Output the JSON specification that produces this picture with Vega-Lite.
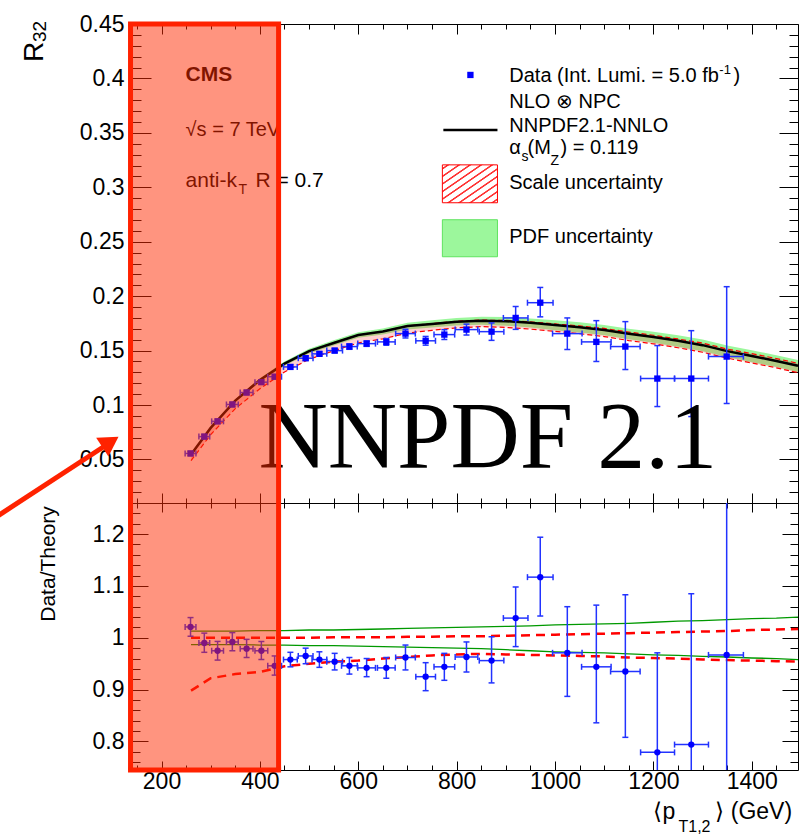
{
  "$schema": "https://vega.github.io/schema/vega-lite/v6.json",
  "autosize": "none",
  "padding": {"left": 132, "top": 24, "right": 9, "bottom": 816},
  "background": "white",
  "config": {
    "view": {"stroke": null},
    "axis": {"grid": false, "domainColor": "black", "tickColor": "black", "domainWidth": 1, "tickWidth": 1, "labelColor": "black", "labelFont": "Liberation Sans", "labelFontSize": 23},
    "text": {"font": "Liberation Sans", "color": "black"}
  },
  "datasets": {
    "theory": [
      {"x":260,"c":0.0545,"pl":0.0538,"ph":0.0552,"sl":0.0489,"sh":0.0545,"rpl":0.987,"rph":1.013,"rsl":0.898,"rsh":1.0},
      {"x":300,"c":0.079,"pl":0.078,"ph":0.08,"sl":0.0728,"sh":0.079,"rpl":0.987,"rph":1.013,"rsl":0.922,"rsh":1.0},
      {"x":350,"c":0.104,"pl":0.1026,"ph":0.1054,"sl":0.0967,"sh":0.104,"rpl":0.987,"rph":1.013,"rsl":0.93,"rsh":1.0},
      {"x":400,"c":0.123,"pl":0.1213,"ph":0.1247,"sl":0.1149,"sh":0.123,"rpl":0.986,"rph":1.014,"rsl":0.934,"rsh":1.0},
      {"x":450,"c":0.138,"pl":0.1361,"ph":0.1399,"sl":0.1304,"sh":0.138,"rpl":0.986,"rph":1.014,"rsl":0.945,"rsh":1.0},
      {"x":500,"c":0.1495,"pl":0.1473,"ph":0.1517,"sl":0.142,"sh":0.1495,"rpl":0.985,"rph":1.015,"rsl":0.95,"rsh":1.0},
      {"x":550,"c":0.157,"pl":0.1546,"ph":0.1594,"sl":0.1498,"sh":0.1572,"rpl":0.985,"rph":1.015,"rsl":0.954,"rsh":1.001},
      {"x":600,"c":0.1643,"pl":0.1617,"ph":0.1669,"sl":0.1571,"sh":0.1645,"rpl":0.984,"rph":1.016,"rsl":0.956,"rsh":1.001},
      {"x":650,"c":0.1675,"pl":0.1647,"ph":0.1703,"sl":0.1608,"sh":0.1677,"rpl":0.983,"rph":1.017,"rsl":0.96,"rsh":1.001},
      {"x":700,"c":0.1725,"pl":0.1694,"ph":0.1756,"sl":0.1661,"sh":0.1728,"rpl":0.982,"rph":1.018,"rsl":0.963,"rsh":1.002},
      {"x":750,"c":0.1745,"pl":0.1712,"ph":0.1778,"sl":0.1686,"sh":0.1748,"rpl":0.981,"rph":1.019,"rsl":0.966,"rsh":1.002},
      {"x":800,"c":0.1765,"pl":0.173,"ph":0.18,"sl":0.1709,"sh":0.177,"rpl":0.98,"rph":1.02,"rsl":0.968,"rsh":1.003},
      {"x":850,"c":0.1775,"pl":0.1738,"ph":0.1812,"sl":0.172,"sh":0.178,"rpl":0.979,"rph":1.021,"rsl":0.969,"rsh":1.003},
      {"x":900,"c":0.177,"pl":0.1729,"ph":0.1809,"sl":0.1713,"sh":0.1777,"rpl":0.977,"rph":1.022,"rsl":0.968,"rsh":1.004},
      {"x":950,"c":0.1755,"pl":0.1711,"ph":0.1795,"sl":0.1697,"sh":0.1764,"rpl":0.975,"rph":1.023,"rsl":0.967,"rsh":1.005},
      {"x":1000,"c":0.1735,"pl":0.1688,"ph":0.1778,"sl":0.1676,"sh":0.1745,"rpl":0.973,"rph":1.025,"rsl":0.966,"rsh":1.006},
      {"x":1050,"c":0.1715,"pl":0.1667,"ph":0.176,"sl":0.1655,"sh":0.1727,"rpl":0.972,"rph":1.026,"rsl":0.965,"rsh":1.007},
      {"x":1100,"c":0.169,"pl":0.1641,"ph":0.1736,"sl":0.1629,"sh":0.1704,"rpl":0.971,"rph":1.027,"rsl":0.964,"rsh":1.008},
      {"x":1150,"c":0.1655,"pl":0.1604,"ph":0.1701,"sl":0.1592,"sh":0.167,"rpl":0.969,"rph":1.028,"rsl":0.962,"rsh":1.009},
      {"x":1200,"c":0.1625,"pl":0.1571,"ph":0.1674,"sl":0.1562,"sh":0.1641,"rpl":0.967,"rph":1.03,"rsl":0.961,"rsh":1.01},
      {"x":1250,"c":0.159,"pl":0.1536,"ph":0.1641,"sl":0.1526,"sh":0.1607,"rpl":0.966,"rph":1.032,"rsl":0.96,"rsh":1.011},
      {"x":1300,"c":0.155,"pl":0.1494,"ph":0.1601,"sl":0.1485,"sh":0.1569,"rpl":0.964,"rph":1.033,"rsl":0.958,"rsh":1.012},
      {"x":1350,"c":0.1495,"pl":0.144,"ph":0.1547,"sl":0.1431,"sh":0.1514,"rpl":0.963,"rph":1.035,"rsl":0.957,"rsh":1.013},
      {"x":1400,"c":0.145,"pl":0.1393,"ph":0.1504,"sl":0.1386,"sh":0.1472,"rpl":0.961,"rph":1.037,"rsl":0.956,"rsh":1.015},
      {"x":1450,"c":0.1405,"pl":0.1349,"ph":0.1458,"sl":0.1342,"sh":0.1427,"rpl":0.96,"rph":1.038,"rsl":0.955,"rsh":1.016},
      {"x":1494,"c":0.136,"pl":0.1303,"ph":0.1414,"sl":0.1297,"sh":0.1383,"rpl":0.958,"rph":1.04,"rsl":0.954,"rsh":1.017}
    ],
    "points": [
      {"x":259,"xlo":248,"xhi":270,"y":0.0555,"ylo":0.0535,"yhi":0.0575,"r":1.021,"rlo":1.003,"rhi":1.039},
      {"x":287,"xlo":276,"xhi":298,"y":0.071,"ylo":0.069,"yhi":0.073,"r":0.99,"rlo":0.972,"rhi":1.009},
      {"x":314,"xlo":302,"xhi":326,"y":0.085,"ylo":0.083,"yhi":0.087,"r":0.975,"rlo":0.957,"rhi":0.993},
      {"x":344,"xlo":332,"xhi":356,"y":0.1005,"ylo":0.0985,"yhi":0.1025,"r":0.992,"rlo":0.975,"rhi":1.01},
      {"x":373,"xlo":360,"xhi":386,"y":0.1115,"ylo":0.1095,"yhi":0.1135,"r":0.979,"rlo":0.962,"rhi":0.997},
      {"x":403,"xlo":390,"xhi":416,"y":0.121,"ylo":0.119,"yhi":0.123,"r":0.975,"rlo":0.958,"rhi":0.993},
      {"x":430,"xlo":416,"xhi":444,"y":0.126,"ylo":0.124,"yhi":0.128,"r":0.946,"rlo":0.928,"rhi":0.965},
      {"x":462,"xlo":448,"xhi":476,"y":0.135,"ylo":0.133,"yhi":0.137,"r":0.958,"rlo":0.944,"rhi":0.972},
      {"x":493,"xlo":478,"xhi":508,"y":0.143,"ylo":0.141,"yhi":0.145,"r":0.965,"rlo":0.95,"rhi":0.98},
      {"x":521,"xlo":506,"xhi":536,"y":0.147,"ylo":0.145,"yhi":0.149,"r":0.958,"rlo":0.943,"rhi":0.973},
      {"x":552,"xlo":536,"xhi":568,"y":0.15,"ylo":0.148,"yhi":0.152,"r":0.954,"rlo":0.938,"rhi":0.97},
      {"x":582,"xlo":566,"xhi":598,"y":0.1537,"ylo":0.1512,"yhi":0.1562,"r":0.946,"rlo":0.93,"rhi":0.962},
      {"x":617,"xlo":599,"xhi":635,"y":0.1564,"ylo":0.1539,"yhi":0.1589,"r":0.942,"rlo":0.925,"rhi":0.96},
      {"x":657,"xlo":639,"xhi":675,"y":0.158,"ylo":0.155,"yhi":0.161,"r":0.942,"rlo":0.922,"rhi":0.962},
      {"x":696,"xlo":676,"xhi":716,"y":0.1656,"ylo":0.1616,"yhi":0.1696,"r":0.962,"rlo":0.938,"rhi":0.986},
      {"x":737,"xlo":717,"xhi":757,"y":0.159,"ylo":0.155,"yhi":0.163,"r":0.925,"rlo":0.898,"rhi":0.952},
      {"x":775,"xlo":754,"xhi":796,"y":0.1647,"ylo":0.1602,"yhi":0.1692,"r":0.944,"rlo":0.918,"rhi":0.97},
      {"x":820,"xlo":797,"xhi":843,"y":0.1693,"ylo":0.1643,"yhi":0.1743,"r":0.963,"rlo":0.934,"rhi":0.992},
      {"x":871,"xlo":846,"xhi":896,"y":0.1674,"ylo":0.1594,"yhi":0.1754,"r":0.956,"rlo":0.913,"rhi":1.002},
      {"x":920,"xlo":895,"xhi":945,"y":0.18,"ylo":0.1695,"yhi":0.1905,"r":1.038,"rlo":0.983,"rhi":1.098},
      {"x":970,"xlo":944,"xhi":996,"y":0.194,"ylo":0.181,"yhi":0.208,"r":1.117,"rlo":1.042,"rhi":1.194},
      {"x":1025,"xlo":995,"xhi":1055,"y":0.1656,"ylo":0.151,"yhi":0.18,"r":0.971,"rlo":0.887,"rhi":1.06},
      {"x":1084,"xlo":1054,"xhi":1114,"y":0.158,"ylo":0.14,"yhi":0.1775,"r":0.944,"rlo":0.836,"rhi":1.063},
      {"x":1143,"xlo":1113,"xhi":1173,"y":0.1537,"ylo":0.1326,"yhi":0.1766,"r":0.935,"rlo":0.808,"rhi":1.083},
      {"x":1208,"xlo":1174,"xhi":1243,"y":0.1243,"ylo":0.0986,"yhi":0.1546,"r":0.779,"rlo":0.62,"rhi":0.971},
      {"x":1277,"xlo":1243,"xhi":1312,"y":0.1243,"ylo":0.0894,"yhi":0.1683,"r":0.794,"rlo":0.57,"rhi":1.085},
      {"x":1349,"xlo":1312,"xhi":1383,"y":0.1445,"ylo":0.1014,"yhi":0.2087,"r":0.967,"rlo":0.68,"rhi":1.4}
    ],
    "highlight": [{"lo": 137, "hi": 438}],
    "arrow": [{"x": -137.5, "y": -0.0032}, {"x": 86.2, "y": 0.0628}],
    "one": [{}]
  },
  "vconcat": [
    {
      "width": 666,
      "height": 479,
      "resolve": {"axis": {"x": "independent", "y": "independent"}},
      "layer": [
        {
          "data": {"name": "theory"},
          "mark": {"type": "area", "color": "#9cf79c", "opacity": 1},
          "encoding": {
            "x": {"field": "x", "type": "quantitative", "scale": {"domain": [140, 1494], "nice": false, "zero": false},
                  "axis": {"orient": "bottom", "values": [200,400,600,800,1000,1200,1400], "tickSize": -10, "labels": false, "domain": true, "title": null}},
            "y": {"field": "pl", "type": "quantitative", "scale": {"domain": [0.01, 0.45], "nice": false, "zero": false},
                  "axis": {"orient": "left", "values": [0.05,0.1,0.15,0.2,0.25,0.3,0.35,0.4,0.45], "tickSize": -19, "labelPadding": 27, "format": "~g", "labelOverlap": false, "labelFlush": false, "domain": true, "title": null}},
            "y2": {"field": "ph"}
          }
        },
        {
          "data": {"name": "theory"},
          "mark": {"type": "area", "color": "#ff3030", "opacity": 0.22},
          "encoding": {
            "x": {"field": "x", "type": "quantitative",
                  "axis": {"orient": "bottom", "values": [150,250,300,350,450,500,550,650,700,750,850,900,950,1050,1100,1150,1250,1300,1350,1450], "tickSize": -5, "labels": false, "domain": false, "title": null}},
            "y": {"field": "sl", "type": "quantitative",
                  "axis": {"orient": "left", "values": [0.01,0.02,0.03,0.04,0.06,0.07,0.08,0.09,0.11,0.12,0.13,0.14,0.16,0.17,0.18,0.19,0.21,0.22,0.23,0.24,0.26,0.27,0.28,0.29,0.31,0.32,0.33,0.34,0.36,0.37,0.38,0.39,0.41,0.42,0.43,0.44], "tickSize": -9, "labels": false, "domain": false, "title": null}},
            "y2": {"field": "sh"}
          }
        },
        {
          "data": {"name": "theory"},
          "mark": {"type": "line", "color": "#ff0000", "strokeWidth": 1.2, "strokeDash": [5, 3]},
          "encoding": {
            "x": {"field": "x", "type": "quantitative",
                  "axis": {"orient": "top", "values": [200,400,600,800,1000,1200,1400], "tickSize": -10, "labels": false, "domain": true, "title": null}},
            "y": {"field": "sl", "type": "quantitative",
                  "axis": {"orient": "right", "values": [0.05,0.1,0.15,0.2,0.25,0.3,0.35,0.4,0.45], "tickSize": -19, "labels": false, "domain": true, "title": null}}
          }
        },
        {
          "data": {"name": "theory"},
          "mark": {"type": "line", "color": "#ff0000", "strokeWidth": 1.2, "strokeDash": [5, 3]},
          "encoding": {
            "x": {"field": "x", "type": "quantitative",
                  "axis": {"orient": "top", "values": [150,250,300,350,450,500,550,650,700,750,850,900,950,1050,1100,1150,1250,1300,1350,1450], "tickSize": -5, "labels": false, "domain": false, "title": null}},
            "y": {"field": "sh", "type": "quantitative",
                  "axis": {"orient": "right", "values": [0.01,0.02,0.03,0.04,0.06,0.07,0.08,0.09,0.11,0.12,0.13,0.14,0.16,0.17,0.18,0.19,0.21,0.22,0.23,0.24,0.26,0.27,0.28,0.29,0.31,0.32,0.33,0.34,0.36,0.37,0.38,0.39,0.41,0.42,0.43,0.44], "tickSize": -9, "labels": false, "domain": false, "title": null}}
          }
        },
        {
          "data": {"name": "theory"},
          "mark": {"type": "line", "color": "#000000", "strokeWidth": 2.5},
          "encoding": {
            "x": {"field": "x", "type": "quantitative", "axis": null},
            "y": {"field": "c", "type": "quantitative", "axis": null}
          }
        },
        {
          "data": {"name": "points"},
          "mark": {"type": "rule", "color": "#2233ff", "strokeWidth": 1.5},
          "encoding": {
            "x": {"field": "xlo", "type": "quantitative", "axis": null},
            "x2": {"field": "xhi"},
            "y": {"field": "y", "type": "quantitative", "axis": null}
          }
        },
        {
          "data": {"name": "points"},
          "mark": {"type": "rule", "color": "#2233ff", "strokeWidth": 1.5},
          "encoding": {
            "x": {"field": "x", "type": "quantitative", "axis": null},
            "y": {"field": "ylo", "type": "quantitative", "axis": null},
            "y2": {"field": "yhi"}
          }
        },
        {
          "data": {"name": "points"},
          "transform": [{"fold": ["ylo", "yhi"], "as": ["k", "v"]}],
          "mark": {"type": "tick", "orient": "horizontal", "size": 6, "thickness": 1.5, "color": "#2233ff", "opacity": 1},
          "encoding": {
            "x": {"field": "x", "type": "quantitative", "axis": null},
            "y": {"field": "v", "type": "quantitative", "axis": null}
          }
        },
        {
          "data": {"name": "points"},
          "transform": [{"fold": ["xlo", "xhi"], "as": ["k", "v"]}],
          "mark": {"type": "tick", "orient": "vertical", "size": 6, "thickness": 1.5, "color": "#2233ff", "opacity": 1},
          "encoding": {
            "x": {"field": "v", "type": "quantitative", "axis": null},
            "y": {"field": "y", "type": "quantitative", "axis": null}
          }
        },
        {
          "data": {"name": "points"},
          "mark": {"type": "point", "shape": "square", "filled": true, "size": 40, "color": "#0000ff", "opacity": 1},
          "encoding": {
            "x": {"field": "x", "type": "quantitative", "axis": null},
            "y": {"field": "y", "type": "quantitative", "axis": null}
          }
        },
        {
          "data": {"name": "one"},
          "mark": {"type": "point", "shape": "square", "filled": true, "size": 40, "color": "#0000ff", "opacity": 1},
          "encoding": {"x": {"datum": 828, "type": "quantitative", "axis": null}, "y": {"datum": 0.4032, "type": "quantitative", "axis": null}}
        },
        {
          "data": {"name": "one"},
          "mark": {"type": "rule", "color": "#000000", "strokeWidth": 2.5},
          "encoding": {"x": {"datum": 773, "type": "quantitative", "axis": null}, "x2": {"datum": 883}, "y": {"datum": 0.3527, "type": "quantitative", "axis": null}}
        },
        {
          "data": {"name": "one"},
          "mark": {"type": "rect", "stroke": "#ff0000", "strokeWidth": 1,
                   "fill": {"gradient": "linear", "x1": 0, "y1": 0, "x2": 1, "y2": 1, "stops": [
                     {"offset": 0, "color": "#ffffff"},
                     {"offset": 0.035, "color": "#ffffff"}, {"offset": 0.045, "color": "#ff3333"}, {"offset": 0.06, "color": "#ff3333"}, {"offset": 0.07, "color": "#ffffff"},
                     {"offset": 0.135, "color": "#ffffff"}, {"offset": 0.145, "color": "#ff3333"}, {"offset": 0.16, "color": "#ff3333"}, {"offset": 0.17, "color": "#ffffff"},
                     {"offset": 0.235, "color": "#ffffff"}, {"offset": 0.245, "color": "#ff3333"}, {"offset": 0.26, "color": "#ff3333"}, {"offset": 0.27, "color": "#ffffff"},
                     {"offset": 0.335, "color": "#ffffff"}, {"offset": 0.345, "color": "#ff3333"}, {"offset": 0.36, "color": "#ff3333"}, {"offset": 0.37, "color": "#ffffff"},
                     {"offset": 0.435, "color": "#ffffff"}, {"offset": 0.445, "color": "#ff3333"}, {"offset": 0.46, "color": "#ff3333"}, {"offset": 0.47, "color": "#ffffff"},
                     {"offset": 0.535, "color": "#ffffff"}, {"offset": 0.545, "color": "#ff3333"}, {"offset": 0.56, "color": "#ff3333"}, {"offset": 0.57, "color": "#ffffff"},
                     {"offset": 0.635, "color": "#ffffff"}, {"offset": 0.645, "color": "#ff3333"}, {"offset": 0.66, "color": "#ff3333"}, {"offset": 0.67, "color": "#ffffff"},
                     {"offset": 0.735, "color": "#ffffff"}, {"offset": 0.745, "color": "#ff3333"}, {"offset": 0.76, "color": "#ff3333"}, {"offset": 0.77, "color": "#ffffff"},
                     {"offset": 0.835, "color": "#ffffff"}, {"offset": 0.845, "color": "#ff3333"}, {"offset": 0.86, "color": "#ff3333"}, {"offset": 0.87, "color": "#ffffff"},
                     {"offset": 0.935, "color": "#ffffff"}, {"offset": 0.945, "color": "#ff3333"}, {"offset": 0.96, "color": "#ff3333"}, {"offset": 0.97, "color": "#ffffff"},
                     {"offset": 1, "color": "#ffffff"}]}},
          "encoding": {"x": {"datum": 771, "type": "quantitative", "axis": null}, "x2": {"datum": 883}, "y": {"datum": 0.2858, "type": "quantitative", "axis": null}, "y2": {"datum": 0.3206}}
        },
        {
          "data": {"name": "one"},
          "mark": {"type": "rect", "fill": "#9cf79c", "stroke": "#5fe35f", "strokeWidth": 1},
          "encoding": {"x": {"datum": 771, "type": "quantitative", "axis": null}, "x2": {"datum": 883}, "y": {"datum": 0.2362, "type": "quantitative", "axis": null}, "y2": {"datum": 0.2702}}
        },
        {"data": {"name": "one"}, "mark": {"type": "text", "text": "Data (Int. Lumi. = 5.0 fb", "fontSize": 20, "align": "left", "baseline": "alphabetic"},
         "encoding": {"x": {"datum": 907, "type": "quantitative", "axis": null}, "y": {"datum": 0.3968, "type": "quantitative", "axis": null}}},
        {"data": {"name": "one"}, "mark": {"type": "text", "text": "-1", "fontSize": 13, "align": "left", "baseline": "alphabetic"},
         "encoding": {"x": {"datum": 1334, "type": "quantitative", "axis": null}, "y": {"datum": 0.4042, "type": "quantitative", "axis": null}}},
        {"data": {"name": "one"}, "mark": {"type": "text", "text": ")", "fontSize": 20, "align": "left", "baseline": "alphabetic"},
         "encoding": {"x": {"datum": 1363, "type": "quantitative", "axis": null}, "y": {"datum": 0.3968, "type": "quantitative", "axis": null}}},
        {"data": {"name": "one"}, "mark": {"type": "text", "text": "NLO ⊗ NPC", "fontSize": 20, "align": "left", "baseline": "alphabetic"},
         "encoding": {"x": {"datum": 907, "type": "quantitative", "axis": null}, "y": {"datum": 0.373, "type": "quantitative", "axis": null}}},
        {"data": {"name": "one"}, "mark": {"type": "text", "text": "NNPDF2.1-NNLO", "fontSize": 20, "align": "left", "baseline": "alphabetic"},
         "encoding": {"x": {"datum": 907, "type": "quantitative", "axis": null}, "y": {"datum": 0.351, "type": "quantitative", "axis": null}}},
        {"data": {"name": "one"}, "mark": {"type": "text", "text": "α", "fontSize": 20, "align": "left", "baseline": "alphabetic"},
         "encoding": {"x": {"datum": 907, "type": "quantitative", "axis": null}, "y": {"datum": 0.3307, "type": "quantitative", "axis": null}}},
        {"data": {"name": "one"}, "mark": {"type": "text", "text": "s", "fontSize": 14, "align": "left", "baseline": "alphabetic"},
         "encoding": {"x": {"datum": 932, "type": "quantitative", "axis": null}, "y": {"datum": 0.3243, "type": "quantitative", "axis": null}}},
        {"data": {"name": "one"}, "mark": {"type": "text", "text": "(M", "fontSize": 20, "align": "left", "baseline": "alphabetic"},
         "encoding": {"x": {"datum": 944, "type": "quantitative", "axis": null}, "y": {"datum": 0.3307, "type": "quantitative", "axis": null}}},
        {"data": {"name": "one"}, "mark": {"type": "text", "text": "Z", "fontSize": 14, "align": "left", "baseline": "alphabetic"},
         "encoding": {"x": {"datum": 991, "type": "quantitative", "axis": null}, "y": {"datum": 0.3206, "type": "quantitative", "axis": null}}},
        {"data": {"name": "one"}, "mark": {"type": "text", "text": ") = 0.119", "fontSize": 20, "align": "left", "baseline": "alphabetic"},
         "encoding": {"x": {"datum": 1011, "type": "quantitative", "axis": null}, "y": {"datum": 0.3307, "type": "quantitative", "axis": null}}},
        {"data": {"name": "one"}, "mark": {"type": "text", "text": "Scale uncertainty", "fontSize": 20, "align": "left", "baseline": "alphabetic"},
         "encoding": {"x": {"datum": 907, "type": "quantitative", "axis": null}, "y": {"datum": 0.2986, "type": "quantitative", "axis": null}}},
        {"data": {"name": "one"}, "mark": {"type": "text", "text": "PDF uncertainty", "fontSize": 20, "align": "left", "baseline": "alphabetic"},
         "encoding": {"x": {"datum": 907, "type": "quantitative", "axis": null}, "y": {"datum": 0.249, "type": "quantitative", "axis": null}}},
        {"data": {"name": "one"}, "mark": {"type": "text", "text": "NNPDF 2.1", "font": "Liberation Serif", "fontSize": 96, "align": "left", "baseline": "alphabetic"},
         "encoding": {"x": {"datum": 397, "type": "quantitative", "axis": null}, "y": {"datum": 0.0417, "type": "quantitative", "axis": null}}},
        {"data": {"name": "one"}, "mark": {"type": "text", "text": "CMS", "fontSize": 21, "fontWeight": "bold", "align": "left", "baseline": "alphabetic"},
         "encoding": {"x": {"datum": 249, "type": "quantitative", "axis": null}, "y": {"datum": 0.3977, "type": "quantitative", "axis": null}}},
        {"data": {"name": "one"}, "mark": {"type": "text", "text": "√s = 7 TeV", "fontSize": 20, "align": "left", "baseline": "alphabetic"},
         "encoding": {"x": {"datum": 249, "type": "quantitative", "axis": null}, "y": {"datum": 0.3472, "type": "quantitative", "axis": null}}},
        {"data": {"name": "one"}, "mark": {"type": "text", "text": "anti-k", "fontSize": 21, "align": "left", "baseline": "alphabetic"},
         "encoding": {"x": {"datum": 249, "type": "quantitative", "axis": null}, "y": {"datum": 0.3005, "type": "quantitative", "axis": null}}},
        {"data": {"name": "one"}, "mark": {"type": "text", "text": "T", "fontSize": 14, "align": "left", "baseline": "alphabetic"},
         "encoding": {"x": {"datum": 356.5, "type": "quantitative", "axis": null}, "y": {"datum": 0.294, "type": "quantitative", "axis": null}}},
        {"data": {"name": "one"}, "mark": {"type": "text", "text": "R = 0.7", "fontSize": 21, "align": "left", "baseline": "alphabetic"},
         "encoding": {"x": {"datum": 391, "type": "quantitative", "axis": null}, "y": {"datum": 0.3005, "type": "quantitative", "axis": null}}},
        {"data": {"name": "one"}, "mark": {"type": "text", "text": "R", "fontSize": 28, "angle": 270, "align": "left", "baseline": "alphabetic"},
         "encoding": {"x": {"datum": -40, "type": "quantitative", "axis": null}, "y": {"datum": 0.4151, "type": "quantitative", "axis": null}}},
        {"data": {"name": "one"}, "mark": {"type": "text", "text": "32", "fontSize": 19, "angle": 270, "align": "left", "baseline": "alphabetic"},
         "encoding": {"x": {"datum": -35, "type": "quantitative", "axis": null}, "y": {"datum": 0.4335, "type": "quantitative", "axis": null}}},
        {
          "data": {"name": "highlight"},
          "mark": {"type": "rect", "color": "#ff2a00", "opacity": 0.5},
          "encoding": {"x": {"field": "lo", "type": "quantitative", "axis": null}, "x2": {"field": "hi"}, "y": {"datum": 0.45, "type": "quantitative", "axis": null}, "y2": {"datum": 0.01}}
        },
        {
          "data": {"name": "highlight"},
          "mark": {"type": "rule", "color": "#ff2200", "strokeWidth": 5},
          "encoding": {"x": {"field": "lo", "type": "quantitative", "axis": null}}
        },
        {
          "data": {"name": "highlight"},
          "mark": {"type": "rule", "color": "#ff2200", "strokeWidth": 5},
          "encoding": {"x": {"field": "hi", "type": "quantitative", "axis": null}}
        },
        {
          "data": {"name": "highlight"},
          "mark": {"type": "rule", "color": "#ff2200", "strokeWidth": 5, "strokeCap": "square"},
          "encoding": {"x": {"field": "lo", "type": "quantitative", "axis": null}, "x2": {"field": "hi"}, "y": {"datum": 0.45, "type": "quantitative", "axis": null}}
        },
        {
          "data": {"name": "arrow"},
          "mark": {"type": "line", "color": "#ff2200", "strokeWidth": 5},
          "encoding": {"x": {"field": "x", "type": "quantitative", "axis": null}, "y": {"field": "y", "type": "quantitative", "axis": null}}
        },
        {
          "data": {"name": "one"},
          "mark": {"type": "point", "shape": "triangle-up", "filled": true, "size": 500, "angle": 56.8, "color": "#ff2200", "opacity": 1},
          "encoding": {"x": {"datum": 96.1, "type": "quantitative", "axis": null}, "y": {"datum": 0.0661, "type": "quantitative", "axis": null}}
        }
      ]
    },
    {
      "width": 666,
      "height": 267,
      "resolve": {"axis": {"x": "independent", "y": "independent"}},
      "layer": [
        {
          "data": {"name": "theory"},
          "mark": {"type": "line", "color": "#009900", "strokeWidth": 1.3},
          "encoding": {
            "x": {"field": "x", "type": "quantitative", "scale": {"domain": [140, 1494], "nice": false, "zero": false},
                  "axis": {"orient": "bottom", "values": [200,400,600,800,1000,1200,1400], "tickSize": -9, "labelPadding": 9, "labelBaseline": "top", "format": "d", "labelFlush": false, "labelOverlap": false, "domain": true, "title": null}},
            "y": {"field": "rph", "type": "quantitative", "scale": {"domain": [0.745, 1.26], "nice": false, "zero": false},
                  "axis": {"orient": "left", "values": [0.8,0.9,1,1.1,1.2], "tickSize": -16, "labelPadding": 24, "format": "~g", "labelOverlap": false, "labelFlush": false, "domain": true, "title": null}}
          }
        },
        {
          "data": {"name": "theory"},
          "mark": {"type": "line", "color": "#009900", "strokeWidth": 1.3},
          "encoding": {
            "x": {"field": "x", "type": "quantitative",
                  "axis": {"orient": "bottom", "values": [150,250,300,350,450,500,550,650,700,750,850,900,950,1050,1100,1150,1250,1300,1350,1450], "tickSize": -5, "labels": false, "domain": false, "title": null}},
            "y": {"field": "rpl", "type": "quantitative",
                  "axis": {"orient": "left", "values": [0.76,0.78,0.82,0.84,0.86,0.88,0.92,0.94,0.96,0.98,1.02,1.04,1.06,1.08,1.12,1.14,1.16,1.18,1.22,1.24], "tickSize": -8, "labels": false, "domain": false, "title": null}}
          }
        },
        {
          "data": {"name": "theory"},
          "mark": {"type": "line", "color": "#ff0000", "strokeWidth": 2.5, "strokeDash": [9, 6]},
          "encoding": {
            "x": {"field": "x", "type": "quantitative",
                  "axis": {"orient": "top", "values": [200,400,600,800,1000,1200,1400], "tickSize": -9, "labels": false, "domain": true, "title": null}},
            "y": {"field": "rsh", "type": "quantitative",
                  "axis": {"orient": "right", "values": [0.8,0.9,1,1.1,1.2], "tickSize": -16, "labels": false, "domain": true, "title": null}}
          }
        },
        {
          "data": {"name": "theory"},
          "mark": {"type": "line", "color": "#ff0000", "strokeWidth": 2.5, "strokeDash": [9, 6]},
          "encoding": {
            "x": {"field": "x", "type": "quantitative",
                  "axis": {"orient": "top", "values": [150,250,300,350,450,500,550,650,700,750,850,900,950,1050,1100,1150,1250,1300,1350,1450], "tickSize": -5, "labels": false, "domain": false, "title": null}},
            "y": {"field": "rsl", "type": "quantitative",
                  "axis": {"orient": "right", "values": [0.76,0.78,0.82,0.84,0.86,0.88,0.92,0.94,0.96,0.98,1.02,1.04,1.06,1.08,1.12,1.14,1.16,1.18,1.22,1.24], "tickSize": -8, "labels": false, "domain": false, "title": null}}
          }
        },
        {
          "data": {"name": "points"},
          "mark": {"type": "rule", "color": "#2233ff", "strokeWidth": 1.5, "clip": true},
          "encoding": {
            "x": {"field": "xlo", "type": "quantitative", "axis": null},
            "x2": {"field": "xhi"},
            "y": {"field": "r", "type": "quantitative", "axis": null}
          }
        },
        {
          "data": {"name": "points"},
          "mark": {"type": "rule", "color": "#2233ff", "strokeWidth": 1.5, "clip": true},
          "encoding": {
            "x": {"field": "x", "type": "quantitative", "axis": null},
            "y": {"field": "rlo", "type": "quantitative", "axis": null},
            "y2": {"field": "rhi"}
          }
        },
        {
          "data": {"name": "points"},
          "transform": [{"fold": ["rlo", "rhi"], "as": ["k", "v"]}],
          "mark": {"type": "tick", "orient": "horizontal", "size": 6, "thickness": 1.5, "color": "#2233ff", "opacity": 1, "clip": true},
          "encoding": {
            "x": {"field": "x", "type": "quantitative", "axis": null},
            "y": {"field": "v", "type": "quantitative", "axis": null}
          }
        },
        {
          "data": {"name": "points"},
          "transform": [{"fold": ["xlo", "xhi"], "as": ["k", "v"]}],
          "mark": {"type": "tick", "orient": "vertical", "size": 6, "thickness": 1.5, "color": "#2233ff", "opacity": 1, "clip": true},
          "encoding": {
            "x": {"field": "v", "type": "quantitative", "axis": null},
            "y": {"field": "r", "type": "quantitative", "axis": null}
          }
        },
        {
          "data": {"name": "points"},
          "mark": {"type": "point", "shape": "circle", "filled": true, "size": 40, "color": "#0000ff", "opacity": 1, "clip": true},
          "encoding": {
            "x": {"field": "x", "type": "quantitative", "axis": null},
            "y": {"field": "r", "type": "quantitative", "axis": null}
          }
        },
        {"data": {"name": "one"}, "mark": {"type": "text", "text": "Data/Theory", "fontSize": 21, "angle": 270, "align": "left", "baseline": "alphabetic"},
         "encoding": {"x": {"datum": -17.5, "type": "quantitative", "axis": null}, "y": {"datum": 1.031, "type": "quantitative", "axis": null}}},
        {"data": {"name": "one"}, "mark": {"type": "text", "text": "⟨p", "fontSize": 23, "align": "left", "baseline": "alphabetic"},
         "encoding": {"x": {"datum": 1200, "type": "quantitative", "axis": null}, "y": {"datum": 0.65, "type": "quantitative", "axis": null}}},
        {"data": {"name": "one"}, "mark": {"type": "text", "text": "T1,2", "fontSize": 16, "align": "left", "baseline": "alphabetic"},
         "encoding": {"x": {"datum": 1251, "type": "quantitative", "axis": null}, "y": {"datum": 0.625, "type": "quantitative", "axis": null}}},
        {"data": {"name": "one"}, "mark": {"type": "text", "text": "⟩ (GeV)", "fontSize": 23, "align": "left", "baseline": "alphabetic"},
         "encoding": {"x": {"datum": 1326, "type": "quantitative", "axis": null}, "y": {"datum": 0.65, "type": "quantitative", "axis": null}}},
        {
          "data": {"name": "highlight"},
          "mark": {"type": "rect", "color": "#ff2a00", "opacity": 0.5},
          "encoding": {"x": {"field": "lo", "type": "quantitative", "axis": null}, "x2": {"field": "hi"}, "y": {"datum": 1.26, "type": "quantitative", "axis": null}, "y2": {"datum": 0.745}}
        },
        {
          "data": {"name": "highlight"},
          "mark": {"type": "rule", "color": "#ff2200", "strokeWidth": 5},
          "encoding": {"x": {"field": "lo", "type": "quantitative", "axis": null}}
        },
        {
          "data": {"name": "highlight"},
          "mark": {"type": "rule", "color": "#ff2200", "strokeWidth": 5},
          "encoding": {"x": {"field": "hi", "type": "quantitative", "axis": null}}
        },
        {
          "data": {"name": "highlight"},
          "mark": {"type": "rule", "color": "#ff2200", "strokeWidth": 5, "strokeCap": "square"},
          "encoding": {"x": {"field": "lo", "type": "quantitative", "axis": null}, "x2": {"field": "hi"}, "y": {"datum": 0.745, "type": "quantitative", "axis": null}}
        }
      ]
    }
  ],
  "spacing": 0,
  "bounds": "flush"
}
